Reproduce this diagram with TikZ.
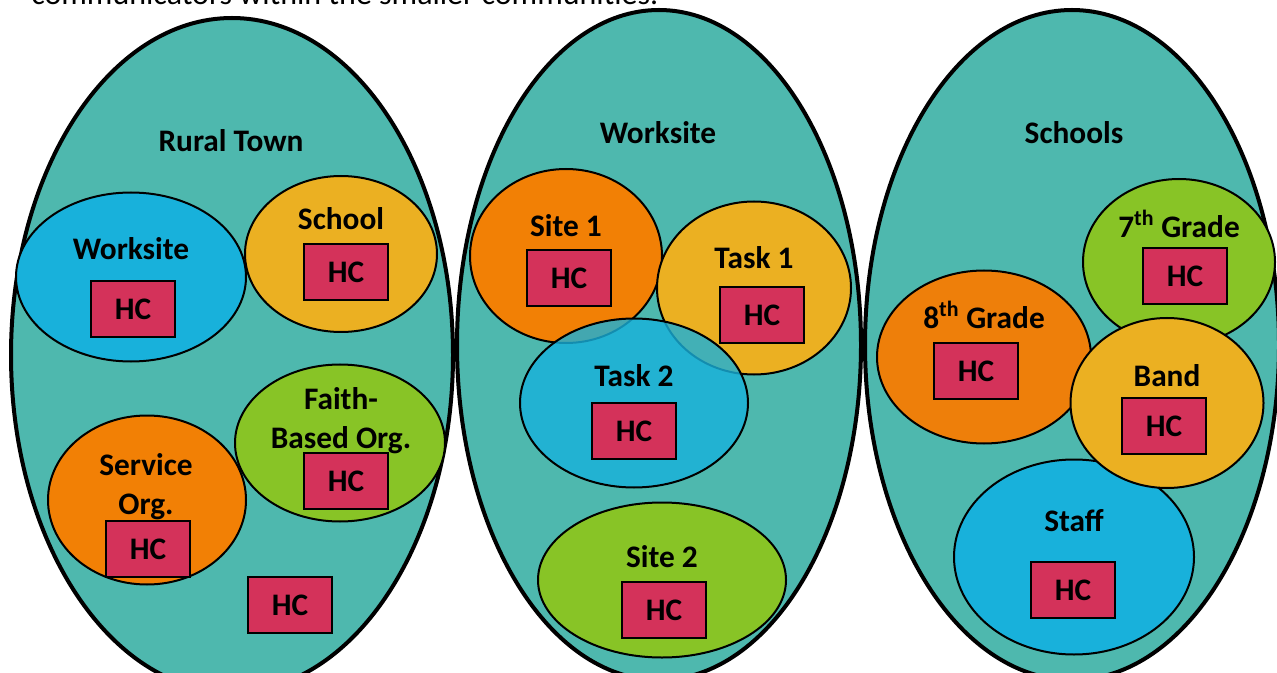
\documentclass[tikz,border=0pt]{standalone}
\usepackage{fontspec}
\setmainfont{Carlito}
\usetikzlibrary{shapes.geometric}
\definecolor{tealbg}{RGB}{78,184,174}
\definecolor{cblue}{RGB}{24,177,219}
\definecolor{cgold}{RGB}{235,176,34}
\definecolor{cgreen}{RGB}{136,196,38}
\definecolor{corange}{RGB}{242,128,5}
\definecolor{corange2}{RGB}{238,127,10}
\definecolor{hcred}{RGB}{212,50,90}
\tikzset{
  sz/.style 2 args={minimum width=#1*0.75pt, minimum height=#2*0.75pt},
  grp/.style={ellipse, draw=black, line width=3pt, fill=tealbg, inner sep=0pt},
  sub/.style={ellipse, draw=black, line width=1.5pt, inner sep=0pt},
  hc/.style={rectangle, draw=black, line width=1.5pt, fill=hcred, inner sep=0pt,
     minimum width=84*0.75pt, minimum height=56*0.75pt,
     font=\bfseries\fontsize{23.5}{28}\selectfont},
  lbl/.style={anchor=base, align=center, inner sep=0pt,
     font=\bfseries\fontsize{23.5}{29.25}\selectfont},
}
\begin{document}
\begin{tikzpicture}[x=0.75pt,y=-0.75pt]
\useasboundingbox (0,0) rectangle (1277,673);
\clip (0,0) rectangle (1277,673);
\node[anchor=base west, inner sep=0pt, font=\fontsize{24}{28}\selectfont] (intro) at (31,5) {communicators within the smaller communities.};

% Group 1: Rural Town
\node[grp, sz={442}{674}] (g1) at (232,355) {};
\node[sub, sz={230}{169}, fill=cblue] (g1w) at (131,277) {};
\node[sub, sz={192}{156}, fill=cgold] (g1s) at (341,254) {};
\node[sub, sz={210}{157}, fill=cgreen] (g1f) at (340,443) {};
\node[sub, sz={198}{169}, fill=corange] (g1o) at (147,500) {};
\node[lbl] (t1) at (231,152) {Rural Town};
\node[lbl] (t1w) at (131,260) {Worksite};
\node[lbl] (t1s) at (341,230) {School};
\node[lbl] (t1f) at (341,448) {Faith-\\Based Org.};
\node[lbl] (t1o) at (146,514) {Service\\Org.};
\node[hc] (h1w) at (133,309) {HC};
\node[hc] (h1s) at (346,272) {HC};
\node[hc] (h1f) at (346,481) {HC};
\node[hc] (h1o) at (148,549) {HC};
\node[hc] (h1x) at (290,605) {HC};

% Group 2: Worksite
\node[grp, sz={404}{670}] (g2) at (659,345) {};
\node[sub, sz={192}{174}, fill=corange] (g2s1) at (566,256) {};
\node[sub, sz={194}{173}, fill=cgold] (g2t1) at (754,288) {};
\node[lbl] (t2) at (658,144) {Worksite};
\node[lbl] (t2s1) at (566,237) {Site 1};
\node[lbl] (t2t1) at (754,269) {Task 1};
\node[hc] (h2s1) at (569,278) {HC};
\node[hc] (h2t1) at (762,315) {HC};
\node[sub, sz={228}{169}, fill=cblue, fill opacity=0.8, draw opacity=1] (g2t2) at (634,403) {};
\node[lbl] (t2t2) at (634,386) {Task 2};
\node[hc] (h2t2) at (634,431) {HC};
\node[sub, sz={248}{155}, fill=cgreen] (g2s2) at (662,580) {};
\node[lbl] (t2s2) at (662,567) {Site 2};
\node[hc] (h2s2) at (664,610) {HC};

% Group 3: Schools
\node[grp, sz={414}{670}] (g3) at (1072,345) {};
\node[sub, sz={214}{173}, fill=corange2] (g3e) at (984,357) {};
\node[sub, sz={192}{166}, fill=cgreen] (g3s) at (1179,262) {};
\node[sub, sz={240}{195}, fill=cblue] (g3st) at (1074,557) {};
\node[sub, sz={193}{170}, fill=cgold] (g3b) at (1167,403) {};
\node[lbl] (t3) at (1074,144) {Schools};
\node[lbl] (t3e) at (984,329) {8\textsuperscript{th} Grade};
\node[lbl] (t3s) at (1179,238) {7\textsuperscript{th} Grade};
\node[lbl] (t3b) at (1167,386) {Band};
\node[lbl] (t3st) at (1074,531) {Staff};
\node[hc] (h3e) at (976,371) {HC};
\node[hc] (h3s) at (1185,276) {HC};
\node[hc] (h3b) at (1164,426) {HC};
\node[hc] (h3st) at (1073,590) {HC};
\end{tikzpicture}
\end{document}
